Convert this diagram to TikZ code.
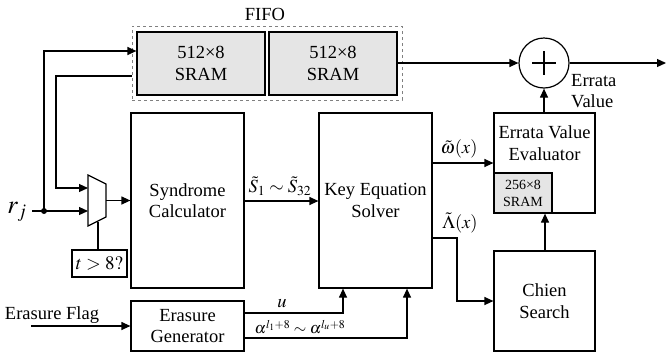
\documentclass[tikz,border=0pt]{standalone}
\usepackage{mathptmx}
\usepackage{fontspec}
\setmainfont{Liberation Serif}
\usetikzlibrary{arrows.meta,shapes.geometric}
\definecolor{sramgray}{RGB}{229,229,229}
\tikzset{
  blk/.style={draw, line width=1.2pt, align=center, inner sep=0pt, font=\fontsize{18.5}{21.5}\selectfont},
  sram/.style={blk, fill=sramgray},
  arr/.style={line width=1.2pt, -{Triangle[length=9pt,width=8pt]}},
  ln/.style={line width=1.2pt},
  lbl/.style={font=\fontsize{18.5}{21.5}\selectfont, inner sep=0pt}
}
\begin{document}
\begin{tikzpicture}[x=1pt,y=-1pt]
\useasboundingbox (0,0) rectangle (666,354);
% FIFO
\node[draw=gray, dashed, line width=0.9pt, minimum width=270pt, minimum height=74pt, inner sep=0pt] (fifo) at (267,63) {};
\node[lbl] (fifol) at (265,14) {FIFO};
\node[sram, minimum width=128pt, minimum height=63pt] (sram1) at (201,63.5) {512×8\\SRAM};
\node[sram, minimum width=128pt, minimum height=63pt] (sram2) at (333,63.5) {512×8\\SRAM};
% adder
\node[draw, circle, line width=1.2pt, minimum size=50pt, inner sep=0pt] (add) at (544,63) {};
\draw[line width=1.2pt] (add.center) ++(-12,0) -- ++(24,0) (add.center) ++(0,-12) -- ++(0,24);
\coordinate (out) at (666,63);
\node[lbl, anchor=west, align=left] (ev) at (571,91) {Errata\\Value};
% main blocks
\node[blk, minimum width=113pt, minimum height=175pt] (syn) at (187.5,200.5) {Syndrome\\Calculator};
\node[blk, minimum width=113pt, minimum height=175pt] (kes) at (375.5,200.5) {Key Equation\\Solver};
\node[blk, minimum width=101pt, minimum height=100pt] (eve) at (544.5,163) {};
\node[lbl, align=center] (evet) at (544.5,143) {Errata Value\\Evaluator};
\node[sram, minimum width=58pt, minimum height=40pt, font=\fontsize{14}{17}\selectfont] (evsram) at (523,193) {256×8\\SRAM};
\node[blk, minimum width=101pt, minimum height=100pt] (chien) at (544.5,301) {Chien\\Search};
\node[blk, minimum width=113pt, minimum height=50pt] (erg) at (187.5,326) {Erasure\\Generator};
\node[draw, line width=1.2pt, minimum width=55pt, minimum height=27pt, inner sep=0pt, font=\fontsize{19}{21}\selectfont] (tq) at (99.5,263.5) {$t>8?$};
% mux
\draw[line width=1.2pt] (88,175) -- (106,184) -- (106,217) -- (88,226) -- cycle;
\coordinate (muxin1) at (88,188);
\coordinate (muxin2) at (88,211);
\coordinate (muxout) at (106,200.5);
\coordinate (muxbot) at (98,221.5);
% r_j
\node[lbl] (rj) at (17,212) {\fontsize{26}{28}\selectfont$r_j$};
\coordinate (rjs) at (32,211);
\coordinate (dot) at (44,211);
\fill (dot) circle (3pt);
\draw[arr] (rjs) -- (muxin2);
\draw[arr] (dot) -- (44,51) -- (sram1.west |- 0,51);
\draw[arr] (fifo.west |- 0,76) -- (56,76) -- (56,188) -- (muxin1);
\draw[arr] (muxout) -- (syn.west |- muxout);
\draw[ln] (muxbot) -- (tq.north -| muxbot);
% syn -> kes
\draw[arr] (syn.east |- 0,201) -- (kes.west |- 0,201);
\node[lbl] (sl) at (280,186) {$\tilde{S}_1\sim\tilde{S}_{32}$};
% FIFO -> adder
\draw[arr] (sram2.east |- add.west) -- (add.west);
\draw[arr] (add.east) -- (out);
\draw[arr] (eve.north -| add.south) -- (add.south);
% kes -> eve
\draw[arr] (kes.east |- 0,163) -- (eve.west |- 0,163);
\node[lbl] (wl) at (459,149) {$\tilde{\omega}(x)$};
\draw[arr] (kes.east |- 0,238) -- (457,238) -- (457,301) -- (chien.west);
\node[lbl] (ll) at (460,223) {$\tilde{\Lambda}(x)$};
\draw[arr] (chien.north -| 545,0) -- (eve.south -| 545,0);
% erasure
\node[lbl] (efl) at (52,315) {Erasure Flag};
\draw[arr] (31,326) -- (erg.west);
\draw[arr] (erg.east |- 0,313) -- (343,313) -- (kes.south -| 343,0);
\node[lbl] (ul) at (282,304) {$u$};
\draw[arr] (erg.east |- 0,338) -- (407,338) -- (kes.south -| 407,0);
\node[lbl, font=\fontsize{16}{18}\selectfont] (al) at (300,327) {$\alpha^{l_1+8}\sim\alpha^{l_u+8}$};
\end{tikzpicture}
\end{document}
